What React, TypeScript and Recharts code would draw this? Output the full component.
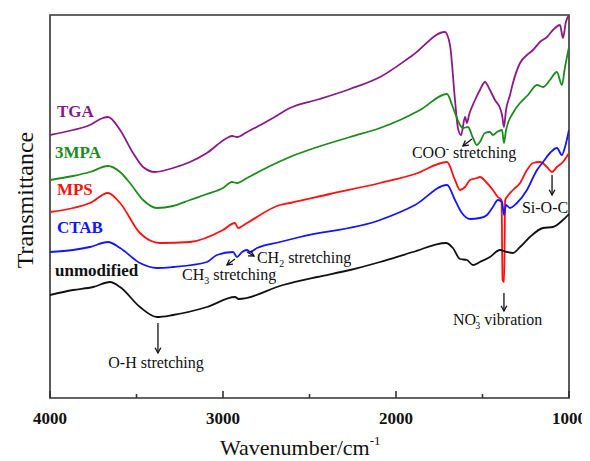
import React from 'react';
import {
  LineChart,
  Line,
  XAxis,
  YAxis,
  ReferenceArea,
  ReferenceDot,
  ReferenceLine,
} from 'recharts';

// FTIR spectra of the unmodified and surface-modified particles.
// Each series: [wavenumber (cm-1), transmittance (arb. units, offset)]
type Pt = [number, number];

const WN_TICKS = [4000, 3500, 3000, 2500, 2000, 1500, 1000];
const WN_MAJOR = [4000, 3000, 2000, 1000];

const tga: Pt[] = [
  [4000, 263], [3867, 268], [3769, 273], [3694, 280], [3665, 281], [3595, 268],
  [3520, 245], [3462, 231], [3393, 226], [3289, 230], [3191, 236], [3093, 245],
  [2977, 260], [2948, 262], [2919, 261], [2861, 266], [2711, 280], [2613, 290],
  [2440, 299], [2266, 309], [2092, 321], [1902, 343], [1717, 366], [1688, 353],
  [1659, 298], [1642, 270], [1624, 263], [1601, 281], [1590, 275], [1578, 283],
  [1543, 298], [1515, 308], [1486, 316], [1457, 308], [1428, 298], [1399, 290],
  [1387, 283], [1376, 271], [1364, 288], [1341, 303], [1324, 315], [1283, 335],
  [1243, 343], [1208, 348], [1168, 356], [1127, 361], [1093, 368], [1052, 373],
  [1035, 360], [1018, 376], [1000, 383],
];

const mpa3: Pt[] = [
  [4000, 218], [3867, 222], [3769, 226], [3665, 232], [3595, 226], [3538, 215],
  [3462, 198], [3382, 190], [3289, 192], [3191, 198], [3093, 204], [3000, 210],
  [2948, 216], [2919, 215], [2861, 220], [2728, 232], [2613, 241], [2266, 261],
  [2092, 270], [1977, 278], [1861, 288], [1705, 304], [1676, 293], [1659, 285],
  [1630, 273], [1613, 270], [1584, 271], [1555, 260], [1532, 253], [1515, 256],
  [1486, 265], [1457, 266], [1440, 263], [1416, 266], [1387, 268], [1376, 255],
  [1364, 268], [1324, 285], [1283, 295], [1237, 303], [1185, 313], [1150, 311],
  [1110, 318], [1070, 326], [1041, 313], [1023, 331], [1000, 351],
];

const mps: Pt[] = [
  [4000, 186], [3867, 190], [3769, 195], [3665, 205], [3595, 195], [3480, 165],
  [3364, 155], [3191, 156], [3000, 168], [2931, 175], [2913, 170], [2861, 175],
  [2671, 193], [2613, 195], [2382, 204], [2092, 215], [1890, 224], [1705, 236],
  [1659, 218], [1630, 208], [1601, 211], [1572, 218], [1532, 220], [1515, 221],
  [1474, 215], [1440, 208], [1411, 201], [1390, 198], [1384, 118], [1375, 116],
  [1369, 198], [1359, 201], [1324, 208], [1283, 215], [1243, 228], [1208, 235],
  [1168, 236], [1127, 231], [1098, 226], [1070, 231], [1035, 236], [1000, 245],
];

const ctab: Pt[] = [
  [4000, 146], [3867, 148], [3769, 151], [3665, 156], [3595, 150], [3480, 135],
  [3382, 130], [3289, 131], [3093, 136], [3035, 143], [2942, 146], [2919, 141],
  [2890, 146], [2861, 148], [2844, 146], [2803, 150], [2671, 156], [2555, 161],
  [2092, 178], [1890, 193], [1705, 213], [1659, 198], [1619, 185], [1572, 179],
  [1515, 180], [1474, 183], [1440, 191], [1411, 198], [1387, 196], [1376, 183],
  [1364, 193], [1341, 190], [1301, 195], [1243, 208], [1185, 228], [1150, 236],
  [1110, 245], [1070, 250], [1041, 243], [1023, 251], [1000, 268],
];

const unmodified: Pt[] = [
  [4000, 103], [3867, 108], [3751, 111], [3653, 116], [3595, 111], [3480, 91],
  [3382, 81], [3289, 83], [3093, 91], [2930, 101], [2910, 99], [2653, 113],
  [2457, 121], [2266, 128], [2092, 136], [1902, 146], [1711, 155], [1671, 150],
  [1630, 139], [1590, 138], [1555, 133], [1515, 136], [1457, 141], [1399, 148],
  [1359, 146], [1324, 145], [1283, 151], [1226, 161], [1150, 170], [1093, 171],
  [1035, 178], [1000, 184],
];

const FONT = '"Liberation Serif", "Times New Roman", Times, serif';
const INK = '#111';

const toRows = (pts: Pt[]) => pts.map(([wn, t]) => ({ wn, t }));

const SERIES = [
  { key: 'tga', name: 'TGA', color: '#8B1A89', pts: tga, at: [3960, 281] },
  { key: 'mpa3', name: '3MPA', color: '#1C8A1C', pts: mpa3, at: [3971, 240] },
  { key: 'mps', name: 'MPS', color: '#FF1010', pts: mps, at: [3960, 203] },
  { key: 'ctab', name: 'CTAB', color: '#1414FF', pts: ctab, at: [3960, 165] },
  { key: 'unmod', name: 'unmodified', color: '#111111', pts: unmodified, at: [3971, 122] },
];

// band assignment arrows: [from, to] in (wavenumber, transmittance)
const ARROWS: { from: Pt; to: Pt }[] = [
  { from: [3376, 75], to: [3376, 45] },
  { from: [2931, 139], to: [2977, 133] },
  { from: [2861, 146], to: [2821, 142] },
  { from: [1561, 259], to: [1613, 252] },
  { from: [1376, 105], to: [1376, 87] },
  { from: [1098, 223], to: [1098, 203] },
];

const WnTick = (props: any) => {
  const { x, y, payload } = props;
  const major = WN_MAJOR.includes(payload.value);
  // the last label sits flush against the right edge of the figure
  const last = payload.value === 1000;
  return (
    <g>
      <line x1={x} x2={x} y1={y} y2={y - (major ? 7 : 4)} stroke="#333" strokeWidth={1.6} />
      {major && (
        <text
          x={last ? x + 17 : x}
          y={y + 26}
          textAnchor={last ? 'end' : 'middle'}
          fontFamily={FONT}
          fontWeight="bold"
          fontSize={17}
          fill={INK}
        >
          {payload.value}
        </text>
      )}
    </g>
  );
};

const arrowShape = (p: any) => {
  const { x1, y1, x2, y2 } = p;
  const ang = Math.atan2(y2 - y1, x2 - x1);
  const h = 6;
  const a1 = ang + Math.PI - 0.5;
  const a2 = ang + Math.PI + 0.5;
  return (
    <g>
      <line x1={x1} y1={y1} x2={x2} y2={y2} stroke={INK} strokeWidth={1.3} />
      <polyline
        points={`${x2 + h * Math.cos(a1)},${y2 + h * Math.sin(a1)} ${x2},${y2} ${x2 + h * Math.cos(a2)},${y2 + h * Math.sin(a2)}`}
        fill="none"
        stroke={INK}
        strokeWidth={1.3}
      />
    </g>
  );
};

const seriesLabel = (text: string, color: string) => (p: any) => (
  <text x={p.cx} y={p.cy} fontFamily={FONT} fontWeight="bold" fontSize={17} fill={color}>
    {text}
  </text>
);

const noteStyle = { fontFamily: FONT, fontSize: 16, fill: INK } as const;

const OHLabel = (p: any) => (
  <text x={p.cx} y={p.cy} textAnchor="middle" {...noteStyle}>O-H stretching</text>
);
const CH3Label = (p: any) => (
  <text x={p.cx} y={p.cy} {...noteStyle}>
    CH<tspan fontSize={10} dy={4}>3</tspan>
    <tspan dy={-4}> stretching</tspan>
  </text>
);
const CH2Label = (p: any) => (
  <text x={p.cx} y={p.cy} {...noteStyle}>
    CH<tspan fontSize={10} dy={4}>2</tspan>
    <tspan dy={-4}> stretching</tspan>
  </text>
);
const COOLabel = (p: any) => (
  <text x={p.cx} y={p.cy} {...noteStyle}>
    COO<tspan fontSize={10} dy={-6}>-</tspan>
    <tspan dy={6}> stretching</tspan>
  </text>
);
const NO3Label = (p: any) => (
  <text x={p.cx} y={p.cy} {...noteStyle}>
    NO<tspan fontSize={10} dy={-6}>-</tspan>
    <tspan fontSize={10} dx={-4} dy={10}>3</tspan>
    <tspan dy={-4}> vibration</tspan>
  </text>
);
const SiOCLabel = (p: any) => (
  <text x={p.cx} y={p.cy} {...noteStyle}>Si-O-C</text>
);

const NOTES: { at: Pt; shape: (p: any) => React.ReactElement }[] = [
  { at: [3387, 30], shape: OHLabel },
  { at: [3237, 118], shape: CH3Label },
  { at: [2804, 135], shape: CH2Label },
  { at: [1908, 240], shape: COOLabel },
  { at: [1671, 73], shape: NO3Label },
  { at: [1272, 185], shape: SiOCLabel },
];

export default function App() {
  return (
    <LineChart
      width={582}
      height={453}
      margin={{ top: 7, right: 21, bottom: 23, left: 42 }}
      style={{ fontFamily: FONT }}
    >
      <XAxis
        type="number"
        dataKey="wn"
        domain={[1000, 4000]}
        reversed
        allowDataOverflow
        ticks={WN_TICKS}
        interval={0}
        tick={(p: any) => <WnTick {...p} />}
        tickLine={false}
        axisLine={false}
        tickSize={0}
        tickMargin={0}
        height={40}
      />
      <YAxis hide type="number" domain={[0, 383]} allowDataOverflow />

      {SERIES.map((s) => (
        <Line
          key={s.key}
          data={toRows(s.pts)}
          dataKey="t"
          name={s.name}
          type="monotone"
          stroke={s.color}
          strokeWidth={1.8}
          dot={false}
          activeDot={false}
          isAnimationActive={false}
        />
      ))}

      <ReferenceArea
        x1={1000}
        x2={4000}
        y1={0}
        y2={383}
        fill="none"
        fillOpacity={0}
        stroke="#333"
        strokeWidth={1.6}
        ifOverflow="visible"
      />

      {SERIES.map((s) => (
        <ReferenceDot
          key={`lbl-${s.key}`}
          x={s.at[0]}
          y={s.at[1]}
          r={1}
          shape={seriesLabel(s.name, s.color)}
        />
      ))}

      {ARROWS.map((a, i) => (
        <ReferenceLine
          key={`arrow-${i}`}
          segment={[
            { x: a.from[0], y: a.from[1] },
            { x: a.to[0], y: a.to[1] },
          ]}
          shape={arrowShape}
        />
      ))}

      {NOTES.map((n, i) => (
        <ReferenceDot key={`note-${i}`} x={n.at[0]} y={n.at[1]} r={1} shape={n.shape} />
      ))}

      <text x={212} y={447} fontFamily={FONT} fontSize={22} fill={INK}>
        Wavenumber/cm<tspan fontSize={13} dy={-10}>-1</tspan>
      </text>
      <text
        x={25}
        y={192}
        transform="rotate(-90, 25, 192)"
        textAnchor="middle"
        fontFamily={FONT}
        fontSize={24}
        fill={INK}
      >
        Transmittance
      </text>
    </LineChart>
  );
}
